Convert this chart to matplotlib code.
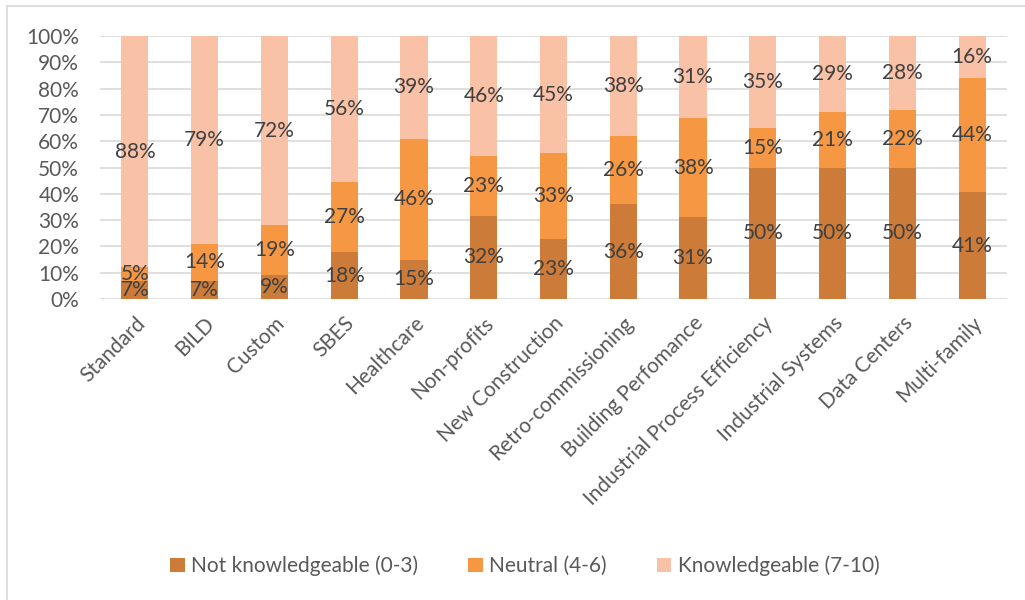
import matplotlib
matplotlib.use("Agg")
import matplotlib.pyplot as plt
from matplotlib.lines import Line2D
import numpy as np

categories = ["Standard", "BILD", "Custom", "SBES", "Healthcare", "Non-profits",
              "New Construction", "Retro-commissioning", "Building Perfomance",
              "Industrial Process Efficiency", "Industrial Systems", "Data Centers",
              "Multi-family"]
not_knowledgeable = [7, 7, 9, 18, 15, 32, 23, 36, 31, 50, 50, 50, 41]
neutral = [5, 14, 19, 27, 46, 23, 33, 26, 38, 15, 21, 22, 44]
knowledgeable = [88, 79, 72, 56, 39, 46, 45, 38, 31, 35, 29, 28, 16]
series_names = ["Not knowledgeable (0-3)", "Neutral (4-6)", "Knowledgeable (7-10)"]
colors = ["#CC7B38", "#F69744", "#F9C1A5"]
yticks = [0, 10, 20, 30, 40, 50, 60, 70, 80, 90, 100]

plt.rcParams["font.family"] = ["Lato", "DejaVu Sans"]
FS = 15

fig = plt.figure(figsize=(10.25, 6), dpi=100)
ax = fig.add_axes([100 / 1025, 1 - 299 / 600, 907 / 1025, 263 / 600])

series = np.array([not_knowledgeable, neutral, knowledgeable], dtype=float)
totals = series.sum(axis=0)
shares = series / totals * 100
x = np.arange(len(categories))
bottom = np.zeros(len(categories))
bar_w = 0.39
for vals, raw, col, name in zip(shares, series, colors, series_names):
    ax.bar(x, vals, bar_w, bottom=bottom, color=col, label=name, zorder=2)
    for xi, b, v, r in zip(x, bottom, vals, raw):
        ax.text(xi, b + v / 2, f"{int(r)}%", ha="center", va="center",
                fontsize=FS, color="#404040", zorder=3)
    bottom += vals

ax.set_xlim(-0.5, len(categories) - 0.5)
ax.set_ylim(0, 100)
ax.set_yticks(yticks)
ax.set_yticklabels([f"{t}%" for t in yticks], fontsize=FS, color="#595959")
ax.set_xticks(x)
ax.set_xticklabels(categories, rotation=45, ha="right", rotation_mode="anchor",
                   fontsize=FS, color="#595959")
ax.tick_params(axis="y", length=0, pad=15)
ax.tick_params(axis="x", length=0, pad=10)
ax.yaxis.grid(True, color="#D9D9D9", linewidth=1.2, zorder=0)
ax.set_axisbelow(True)
for s in ax.spines.values():
    s.set_visible(False)

leg = fig.legend(loc="center", bbox_to_anchor=(0.512, 1 - 566 / 600), ncol=3,
                 frameon=False, fontsize=FS, handlelength=0.7, handleheight=0.7,
                 handletextpad=0.3, columnspacing=2.4)
for t in leg.get_texts():
    t.set_color("#595959")

# chart-area frame: top and left edges
frame_col = "#D9D9D9"
fig.lines.append(Line2D([7 / 1025, 1.0], [1 - 6 / 600, 1 - 6 / 600],
                        transform=fig.transFigure, color=frame_col, linewidth=1.2))
fig.lines.append(Line2D([7 / 1025, 7 / 1025], [0.0, 1 - 6 / 600],
                        transform=fig.transFigure, color=frame_col, linewidth=1.2))

fig.savefig("out.png", dpi=100)
